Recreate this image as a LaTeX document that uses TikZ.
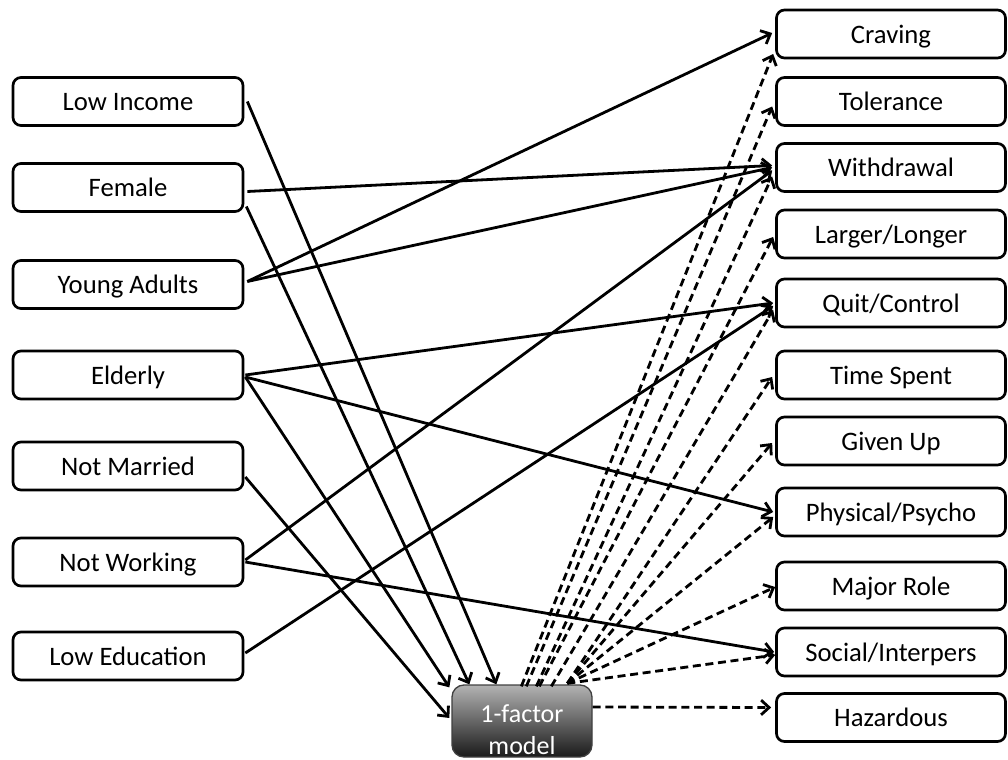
\documentclass[tikz,border=0pt]{standalone}
\usepackage{fontspec}
\setmainfont{Carlito}
\usetikzlibrary{arrows.meta,calc}
\begin{document}
\begin{tikzpicture}[x=0.75pt,y=-0.75pt,
  box/.style={draw=black, line width=2pt, rounded corners=6pt, fill=white,
    minimum height=36pt, inner sep=0pt, text height=13.5pt, text depth=0pt,
    font=\fontsize{20}{24}\selectfont},
  lbox/.style={box, minimum width=172.5pt},
  rbox/.style={box, minimum width=171.75pt},
  modelbox/.style={draw=black!75, line width=1pt, rounded corners=9pt,
    top color=black!30, bottom color=black!90, minimum width=105pt,
    minimum height=54pt, inner sep=0pt},
  modeltext/.style={text=white, align=center, inner sep=0pt,
    font=\fontsize{19.5}{24}\selectfont},
  link/.style={line width=2.1pt, -{Straight Barb[length=6pt,width=11pt]}},
  dlink/.style={link, dash pattern=on 6pt off 3.5pt},
]
\useasboundingbox (0,0) rectangle (1008,760);

% left boxes
\node[lbox] (li) at (128,101.5) {Low Income};
\node[lbox] (fe) at (128,187.5) {Female};
\node[lbox] (ya) at (128,284.5) {Young Adults};
\node[lbox] (el) at (128,375) {Elderly};
\node[lbox] (nm) at (128,466) {Not Married};
\node[lbox] (nw) at (128,562) {Not Working};
\node[lbox] (le) at (128,656) {Low Education};

% right boxes
\node[rbox] (cr) at (891,34) {Craving};
\node[rbox] (to) at (891,101.5) {Tolerance};
\node[rbox] (wd) at (891,167.5) {Withdrawal};
\node[rbox] (ll) at (891,234) {Larger/Longer};
\node[rbox] (qc) at (891,303) {Quit/Control};
\node[rbox] (ts) at (891,375) {Time Spent};
\node[rbox] (gu) at (891,441) {Given Up};
\node[rbox] (pp) at (891,512) {Physical/Psycho};
\node[rbox] (mr) at (891,586) {Major Role};
\node[rbox] (si) at (891,652) {Social/Interpers};
\node[rbox] (hz) at (891,717.5) {Hazardous};

% model
\node[modelbox] (m) at (522,721) {};
\node[modeltext] (mt) at ($(m.center)+(0,9)$) {1-factor\\model};
\coordinate (fan) at ($(m.north west)+(116,-1)$);

% solid connectors
\draw[link] ($(li.east)+(3,0)$) -- ($(m.north west)+(45,0)$);
\draw[link] ($(fe.east)+(3,4)$) -- ($(wd.west)+(-3,-2)$);
\draw[link] ($(fe.east)+(2,19)$) -- ($(m.north west)+(18,0)$);
\draw[link] ($(ya.east)+(3,-3)$) -- ($(cr.west)+(-3,-1)$);
\draw[link] ($(ya.east)+(3,-3)$) -- ($(wd.west)+(-3,0)$);
\draw[link] ($(el.east)+(1,0)$) -- ($(qc.west)+(-2,0)$);
\draw[link] ($(el.east)+(1,2)$) -- ($(pp.west)+(-2,0)$);
\draw[link] ($(el.east)+(1,2)$) -- ($(m.north west)+(-2,3)$);
\draw[link] ($(nm.east)+(1,11)$) -- ($(m.west)+(-2,-3)$);
\draw[link] ($(nw.east)+(1,-2)$) -- ($(wd.west)+(-3,3)$);
\draw[link] ($(nw.east)+(1,0)$) -- ($(si.west)+(-1,0)$);
\draw[link] ($(le.east)+(1,-3)$) -- ($(qc.west)+(-2,3)$);

% dashed connectors
\draw[dlink] ($(m.north west)+(70,2)$) -- ($(cr.west)+(-2,20)$);
\draw[dlink] ($(m.north west)+(75,2)$) -- ($(to.west)+(-3,5)$);
\draw[dlink] ($(m.north west)+(85,2)$) -- ($(wd.west)+(-3,9)$);
\draw[dlink] ($(m.north west)+(88,2)$) -- ($(ll.west)+(-2,3)$);
\draw[dlink] ($(m.north west)+(100,2)$) -- ($(qc.west)+(-2,7)$);
\draw[dlink] (fan) -- ($(ts.west)+(-3,2)$);
\draw[dlink] (fan) -- ($(gu.west)+(-3,2)$);
\draw[dlink] (fan) -- ($(pp.west)+(-2,5)$);
\draw[dlink] (fan) -- ($(mr.west)+(0,1)$);
\draw[dlink] (fan) -- ($(si.west)+(0,3)$);
\draw[dlink] ($(m.east)+(0,-14)$) -- ($(hz.west)+(-4,-10)$);
\end{tikzpicture}
\end{document}
